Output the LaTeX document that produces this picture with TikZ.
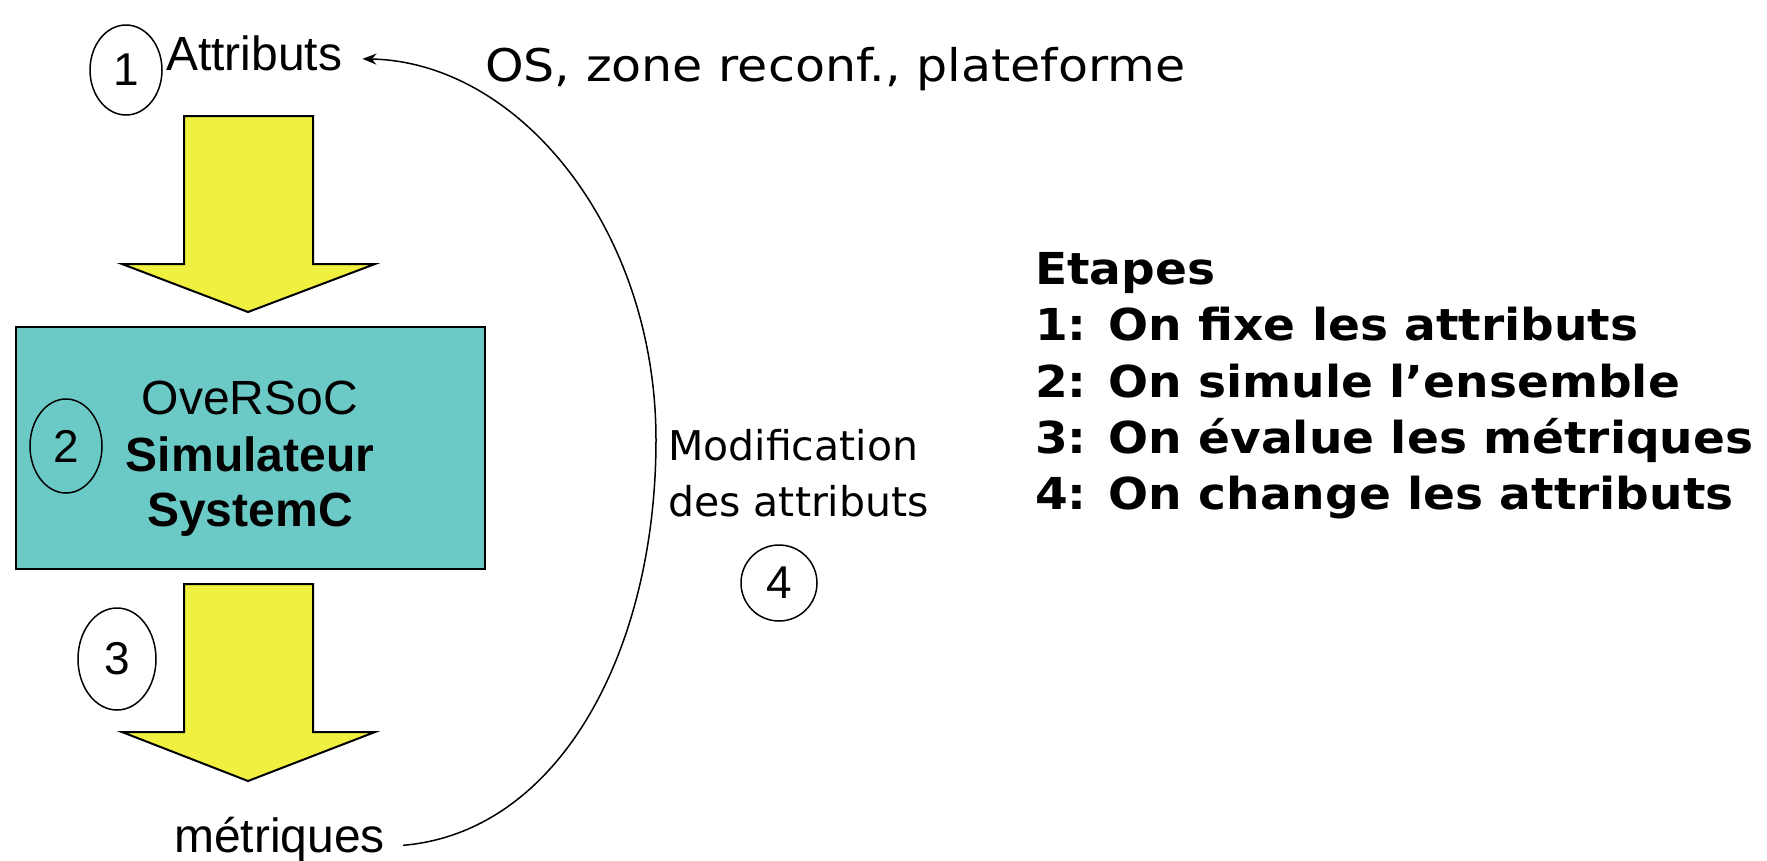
\documentclass[tikz,border=0pt]{standalone}
\usepackage{fontspec}
\setmainfont{Liberation Sans}
\newfontfamily\dv{DejaVu Sans}
\newfontfamily\dvwide[FakeStretch=1.09]{DejaVu Sans}
\newfontfamily\dvbold[FakeStretch=1.07]{DejaVu Sans Bold}
\usetikzlibrary{arrows.meta}
\definecolor{yel}{RGB}{240,240,64}
\definecolor{teal2}{RGB}{108,202,198}
\tikzset{
  ell/.style={draw, ellipse, line width=1.5pt, inner sep=0pt},
  bigarrow/.style={draw, fill=yel, line width=2pt, line join=miter},
  simbox/.style={draw, fill=teal2, line width=2pt, inner sep=0pt},
  txt/.style={inner sep=0pt, font=\fontsize{48}{54}\selectfont},
  dvtxt/.style={inner sep=0pt, font=\dv\fontsize{41}{50}\selectfont}
}
\usetikzlibrary{shapes.geometric}
\begin{document}
\begin{tikzpicture}[x=1pt,y=-1pt]
\useasboundingbox (0,0) rectangle (1767,860);
% yellow arrows
\draw[bigarrow] (184,116) -- (313,116) -- (313,264) -- (375,264) -- (248,312) -- (122,264) -- (184,264) -- cycle;
\draw[bigarrow] (184,584) -- (313,584) -- (313,732) -- (375,732) -- (248,781) -- (122,732) -- (184,732) -- cycle;
% simulator box
\node[simbox, minimum width=469pt, minimum height=242pt] (sim) at (250.5,448) {};
\node[txt, anchor=base] (ov) at (250,414) {OveRSoC};
\node[txt, anchor=base] (si) at (250,471) {\bfseries Simulateur};
\node[txt, anchor=base] (sy) at (250,526) {\bfseries SystemC};
% ellipses
\node[ell, minimum width=72pt, minimum height=90pt] (e1) at (126,70) {\fontsize{46}{50}\selectfont 1};
\node[ell, minimum width=72pt, minimum height=94pt] (e2) at (66,446) {\fontsize{46}{50}\selectfont 2};
\node[ell, minimum width=78pt, minimum height=102pt] (e3) at (117,659) {\fontsize{46}{50}\selectfont 3};
\node[ell, minimum width=76pt, minimum height=76pt] (e4) at (779,583) {\fontsize{46}{50}\selectfont 4};
% labels
\node[txt, anchor=base west] (attr) at (166,70) {Attributs};
\node[txt, anchor=base west] (met) at (174,852) {métriques};
\node[dvtxt, anchor=base west, font=\dvwide\fontsize{45}{54}\selectfont] (os) at (485,81) {OS, zone reconf., plateforme};
\node[dvtxt, anchor=base west] (mod1) at (668,460) {Modification};
\node[dvtxt, anchor=base west] (mod2) at (668,516) {des attributs};
% loop connector
\coordinate (cstart) at ([xshift=18pt,yshift=-6pt]met.east);
\coordinate (cend) at ([xshift=20pt,yshift=-6pt]attr.east);
\draw[line width=1.5pt, -{Stealth[length=14pt,width=11pt]}] (cstart) .. controls (560,832) and (656,650) .. (656,440) .. controls (656,230) and (520,62) .. (cend);
% steps
\begin{scope}[every node/.style={inner sep=0pt, anchor=base west, font=\dvbold\fontsize{44}{54}\selectfont}]
\node (s0) at (1035,284) {Etapes};
\node (s1) at (1035,340) {1: On fixe les attributs};
\node (s2) at (1035,397) {2: On simule l’ensemble};
\node (s3) at (1035,453) {3: On évalue les métriques};
\node (s4) at (1035,509) {4: On change les attributs};
\end{scope}
\end{tikzpicture}
\end{document}
